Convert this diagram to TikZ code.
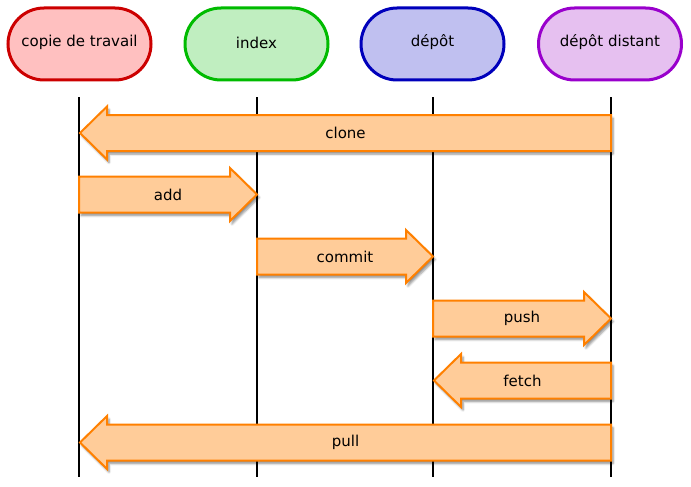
\documentclass[tikz,border=0pt]{standalone}
\usepackage{fontspec}
\setmainfont{DejaVu Sans}
\usetikzlibrary{shapes.misc,shadows.blur}
\definecolor{redf}{HTML}{FFC0C0}\definecolor{redd}{HTML}{CC0000}
\definecolor{greenf}{HTML}{C0EEC0}\definecolor{greend}{HTML}{00BB00}
\definecolor{bluef}{HTML}{C0C0F0}\definecolor{blued}{HTML}{0000BB}
\definecolor{purpf}{HTML}{E6C0F0}\definecolor{purpd}{HTML}{9900CC}
\definecolor{arrf}{HTML}{FFCC99}\definecolor{arrd}{HTML}{FF8000}
\tikzset{
  header/.style={rounded rectangle, minimum width=143pt, minimum height=72pt, line width=3pt, inner sep=0pt},
  headtext/.style={font=\fontsize{15}{17}\selectfont, inner sep=0pt},
  life/.style={line width=2pt, black},
  flow/.style={fill=arrf, draw=arrd, line width=2pt, line join=miter,
    blur shadow={shadow xshift=2pt, shadow yshift=-3pt, shadow blur steps=6, shadow opacity=45}},
  flowlabel/.style={font=\fontsize{15}{17}\selectfont, inner sep=0pt}
}
\newcommand\rflow[4]{% from x, to x, y, label (arrow to the right)
  \draw[flow] (#1,#3-18) -- (#2-27,#3-18) -- (#2-27,#3-26.5) -- (#2,#3) -- (#2-27,#3+26.5) -- (#2-27,#3+18) -- (#1,#3+18) -- cycle;
  \node[flowlabel] (#4) at ({(#1+#2)/2},#3) {#4};}
\newcommand\lflow[4]{% from x (right), to x (left), y, label
  \draw[flow] (#1,#3-18) -- (#2+27,#3-18) -- (#2+27,#3-26.5) -- (#2,#3) -- (#2+27,#3+26.5) -- (#2+27,#3+18) -- (#1,#3+18) -- cycle;
  \node[flowlabel] (#4) at ({(#1+#2)/2},#3) {#4};}
\begin{document}
\begin{tikzpicture}[x=1pt,y=-1pt]
\useasboundingbox (0,0) rectangle (691,487);
\node[header, fill=redf, draw=redd] (wc) at (79.5,44) {};
\node[headtext] (wct) at (79.5,42.5) {copie de travail};
\node[header, fill=greenf, draw=greend] (ix) at (256.5,44) {};
\node[headtext] (ixt) at (256.5,42.5) {index};
\node[header, fill=bluef, draw=blued] (rp) at (432.5,44) {};
\node[headtext] (rpt) at (432.5,42.5) {dépôt};
\node[header, fill=purpf, draw=purpd] (rr) at (610,44) {};
\node[headtext] (rrt) at (610,42.5) {dépôt distant};
\coordinate (t1) at (79,97);  \coordinate (b1) at (79,477);
\coordinate (t2) at (257,97); \coordinate (b2) at (257,477);
\coordinate (t3) at (433,97); \coordinate (b3) at (433,477);
\coordinate (t4) at (611,97); \coordinate (b4) at (611,477);
\draw[life] (t1) -- (b1);
\draw[life] (t2) -- (b2);
\draw[life] (t3) -- (b3);
\draw[life] (t4) -- (b4);
\lflow{611}{80}{133}{clone}
\rflow{79}{257}{194.5}{add}
\rflow{257}{433}{256.5}{commit}
\rflow{433}{611}{318.5}{push}
\lflow{611}{434}{380.5}{fetch}
\lflow{611}{80}{442.5}{pull}
\end{tikzpicture}
\end{document}
